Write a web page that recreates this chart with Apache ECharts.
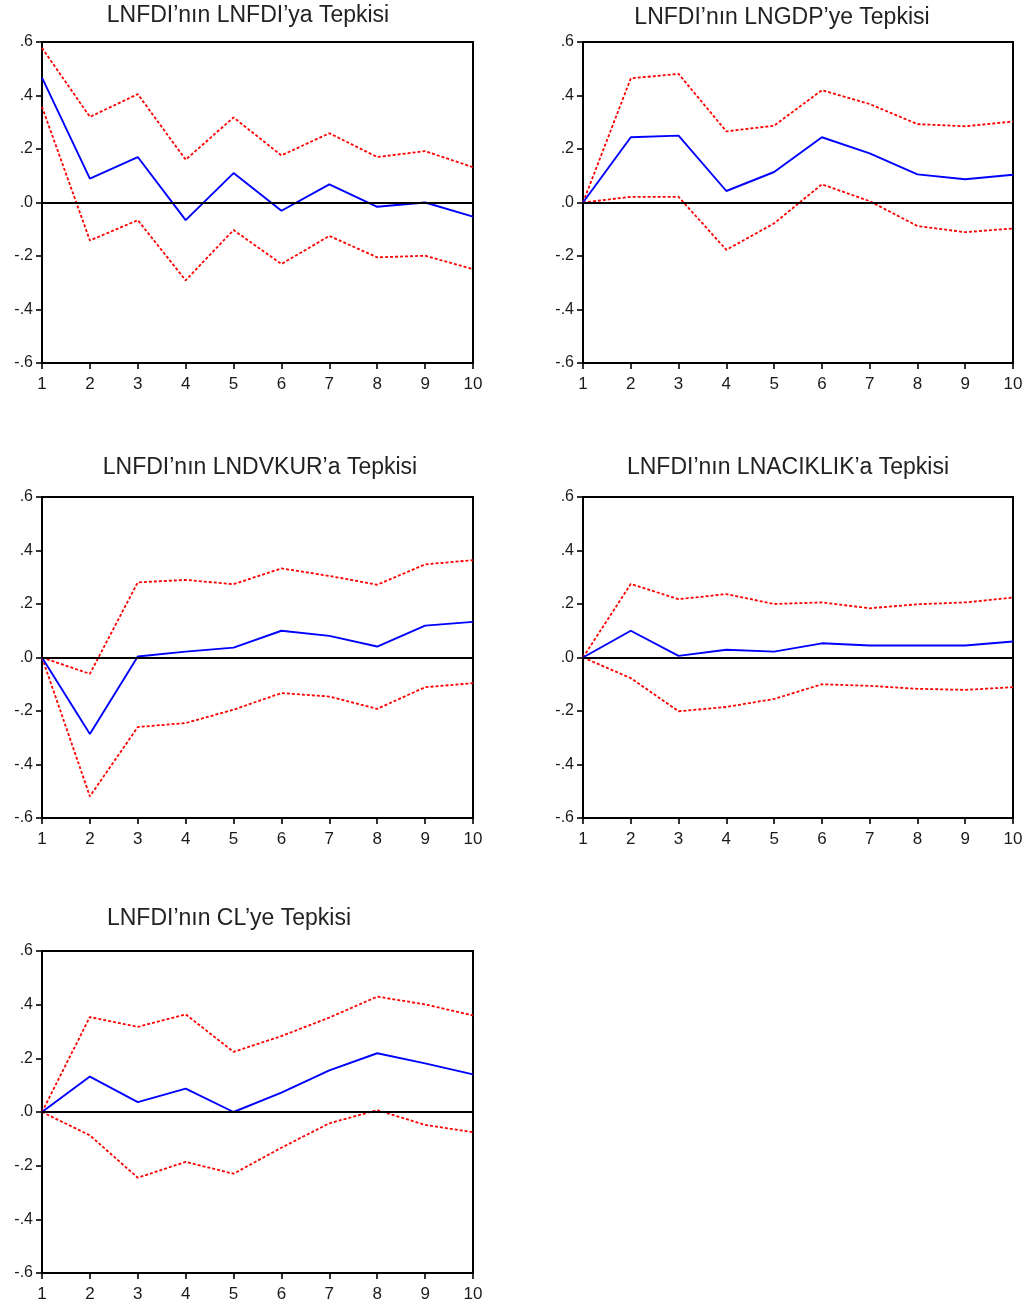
<!DOCTYPE html>
<html>
<head>
<meta charset="utf-8">
<script src="https://cdn.jsdelivr.net/npm/echarts@6/dist/echarts.min.js"></script>
<style>
html,body{margin:0;padding:0;background:#fff;}
#chart{width:1030px;height:1305px;}
</style>
</head>
<body>
<div id="chart"></div>
<script>
// ---- data ----
const periods = ['1','2','3','4','5','6','7','8','9','10'];
const titles = [
  'LNFDI’nın LNFDI’ya Tepkisi',
  'LNFDI’nın LNGDP’ye Tepkisi',
  'LNFDI’nın LNDVKUR’a Tepkisi',
  'LNFDI’nın LNACIKLIK’a Tepkisi',
  'LNFDI’nın CL’ye Tepkisi'
];
const yTicks = [-0.6, -0.4, -0.2, 0.0, 0.2, 0.4, 0.6];

const resp1  = [0.467, 0.089, 0.170, -0.066, 0.110, -0.031, 0.068, -0.016, 0.000, -0.053];
const upper1 = [0.578, 0.320, 0.405, 0.160, 0.318, 0.176, 0.259, 0.170, 0.192, 0.132];
const lower1 = [0.358, -0.142, -0.066, -0.291, -0.103, -0.230, -0.125, -0.205, -0.199, -0.249];

const resp2  = [0, 0.244, 0.250, 0.043, 0.114, 0.244, 0.184, 0.105, 0.087, 0.104];
const upper2 = [0, 0.464, 0.481, 0.266, 0.287, 0.420, 0.368, 0.293, 0.285, 0.303];
const lower2 = [0, 0.021, 0.021, -0.177, -0.078, 0.068, 0.005, -0.088, -0.111, -0.097];

const resp3  = [0, -0.286, 0.004, 0.022, 0.037, 0.100, 0.081, 0.041, 0.119, 0.133];
const upper3 = [0, -0.061, 0.281, 0.290, 0.274, 0.333, 0.305, 0.272, 0.348, 0.364];
const lower3 = [0, -0.519, -0.260, -0.245, -0.195, -0.133, -0.146, -0.192, -0.111, -0.096];

const resp4  = [0, 0.100, 0.006, 0.029, 0.022, 0.053, 0.045, 0.045, 0.045, 0.060];
const upper4 = [0, 0.275, 0.218, 0.237, 0.200, 0.206, 0.184, 0.199, 0.206, 0.224];
const lower4 = [0, -0.077, -0.201, -0.185, -0.155, -0.100, -0.106, -0.117, -0.121, -0.111];

const resp5  = [0, 0.132, 0.037, 0.087, 0.000, 0.072, 0.155, 0.219, 0.181, 0.140];
const upper5 = [0, 0.354, 0.317, 0.364, 0.224, 0.283, 0.352, 0.430, 0.401, 0.360];
const lower5 = [0, -0.087, -0.245, -0.186, -0.230, -0.133, -0.042, 0.007, -0.048, -0.075];

const panels = [
  {resp: resp1, upper: upper1, lower: lower1},
  {resp: resp2, upper: upper2, lower: lower2},
  {resp: resp3, upper: upper3, lower: lower3},
  {resp: resp4, upper: upper4, lower: lower4},
  {resp: resp5, upper: upper5, lower: lower5}
];

// ---- layout ----
const gridPos = [
  {left: 42,  top: 42,  width: 431, height: 321},
  {left: 583, top: 42,  width: 430, height: 321},
  {left: 42,  top: 497, width: 431, height: 321},
  {left: 583, top: 497, width: 430, height: 321},
  {left: 42,  top: 951, width: 431, height: 322}
];
const titlePos = [[248, 16], [782, 18], [260, 468], [788, 468], [229, 919]];

const FONT = '"Liberation Sans", Arial, sans-serif';
const labelColor = '#1a1a1a';

function fmtY(v) {
  let s = Number(v).toFixed(1);
  return s.replace('0.', '.');
}

const grids = [], xAxes = [], yAxes = [], series = [], graphics = [];
panels.forEach((p, i) => {
  grids.push(Object.assign({
    show: true, borderColor: '#000', borderWidth: 2, backgroundColor: 'transparent',
    containLabel: false
  }, gridPos[i]));
  xAxes.push({
    type: 'category', gridIndex: i, data: periods, boundaryGap: false,
    axisLine: {show: true, onZero: false, lineStyle: {color: '#000', width: 2}},
    axisTick: {show: true, inside: false, length: 6, lineStyle: {color: '#000', width: 1.6}},
    axisLabel: {show: true, color: labelColor, fontFamily: FONT, fontSize: 17, margin: 13, interval: 0},
    splitLine: {show: false}
  });
  yAxes.push({
    type: 'value', gridIndex: i, min: -0.6, max: 0.6, interval: 0.2,
    axisLine: {show: true, lineStyle: {color: '#000', width: 2}},
    axisTick: {show: true, inside: false, length: 6, lineStyle: {color: '#000', width: 1.6}},
    axisLabel: {show: true, color: labelColor, fontFamily: FONT, fontSize: 16, margin: 9,
                padding: [0, 0, 6, 0], formatter: fmtY},
    splitLine: {show: false}
  });
  series.push({
    type: 'line', xAxisIndex: i, yAxisIndex: i, data: p.upper, symbol: 'none', silent: true,
    lineStyle: {color: '#ff0000', width: 1.8, type: [3, 2]}, z: 3
  });
  series.push({
    type: 'line', xAxisIndex: i, yAxisIndex: i, data: p.lower, symbol: 'none', silent: true,
    lineStyle: {color: '#ff0000', width: 1.8, type: [3, 2]}, z: 3
  });
  series.push({
    type: 'line', xAxisIndex: i, yAxisIndex: i, data: p.resp, symbol: 'none', silent: true,
    lineStyle: {color: '#0000ff', width: 1.9}, z: 4
  });
  series.push({
    type: 'line', xAxisIndex: i, yAxisIndex: i, data: [], symbol: 'none', silent: true, z: 5,
    markLine: {
      silent: true, symbol: ['none', 'none'], label: {show: false},
      lineStyle: {color: '#000', width: 2, type: 'solid'},
      data: [{yAxis: 0}], animation: false
    }
  });
  graphics.push({
    type: 'text', x: titlePos[i][0], y: titlePos[i][1],
    style: {
      text: titles[i], fill: '#222', font: '23px ' + FONT,
      textAlign: 'center', textVerticalAlign: 'middle'
    }
  });
});

const chart = echarts.init(document.getElementById('chart'), null, {renderer: 'canvas'});
chart.setOption({
  animation: false,
  backgroundColor: '#fff',
  grid: grids,
  xAxis: xAxes,
  yAxis: yAxes,
  series: series,
  graphic: graphics
});
</script>
</body>
</html>
